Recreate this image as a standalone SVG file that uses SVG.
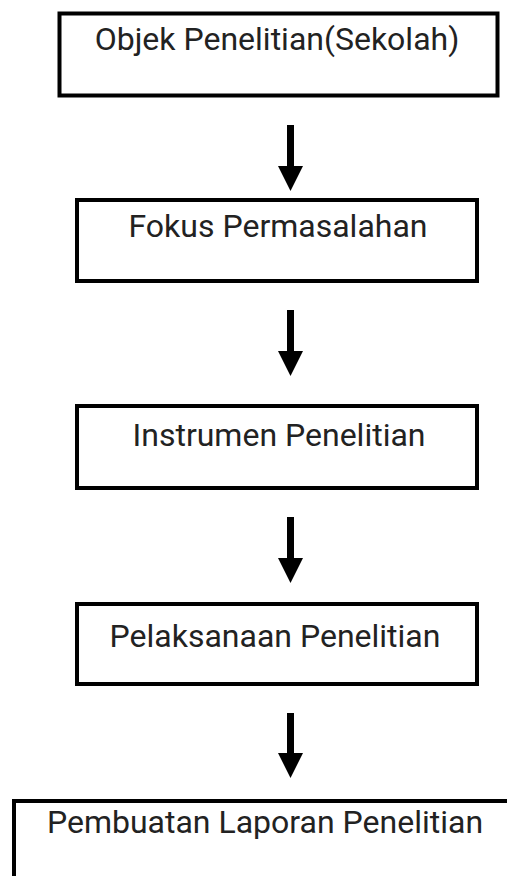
<svg xmlns="http://www.w3.org/2000/svg" width="507" height="876" viewBox="0 0 507 876">
  <style>
    .box { fill: #ffffff; stroke: #000000; stroke-width: 4; }
    .label { font-family: Roboto, "Liberation Sans", sans-serif; font-size: 32px; fill: #222222; text-anchor: middle; }
    .flow { stroke: #000000; stroke-width: 7; fill: none; }
  </style>
  <defs>
    <marker id="head" markerUnits="userSpaceOnUse" markerWidth="25" markerHeight="26" refX="0" refY="12.5" orient="auto" viewBox="0 0 25 26">
      <path d="M0,0 L25,12.5 L0,25 Z" fill="#000000"/>
    </marker>
  </defs>
  <rect width="507" height="876" fill="#ffffff"/>

  <!-- process steps -->
  <g id="objek">
    <rect class="box" x="59.5" y="13.5" width="438" height="82"/>
    <text class="label" x="277" y="50">Objek Penelitian(Sekolah)</text>
  </g>
  <g id="fokus">
    <rect class="box" x="77" y="200" width="400" height="81"/>
    <text class="label" x="278" y="237">Fokus Permasalahan</text>
  </g>
  <g id="instrumen">
    <rect class="box" x="77" y="406" width="400" height="82"/>
    <text class="label" x="279" y="446">Instrumen Penelitian</text>
  </g>
  <g id="pelaksanaan">
    <rect class="box" x="77" y="604" width="400" height="80"/>
    <text class="label" x="275" y="647">Pelaksanaan Penelitian</text>
  </g>
  <g id="laporan">
    <rect class="box" x="14" y="801" width="510" height="100"/>
    <text class="label" x="265" y="833">Pembuatan Laporan Penelitian</text>
  </g>

  <!-- arrows between steps -->
  <g id="connectors">
    <line class="flow" x1="290.5" y1="125" x2="290.5" y2="166" marker-end="url(#head)"/>
    <line class="flow" x1="290.5" y1="310" x2="290.5" y2="351" marker-end="url(#head)"/>
    <line class="flow" x1="290.5" y1="517" x2="290.5" y2="558" marker-end="url(#head)"/>
    <line class="flow" x1="290.5" y1="713" x2="290.5" y2="753" marker-end="url(#head)"/>
  </g>
</svg>
